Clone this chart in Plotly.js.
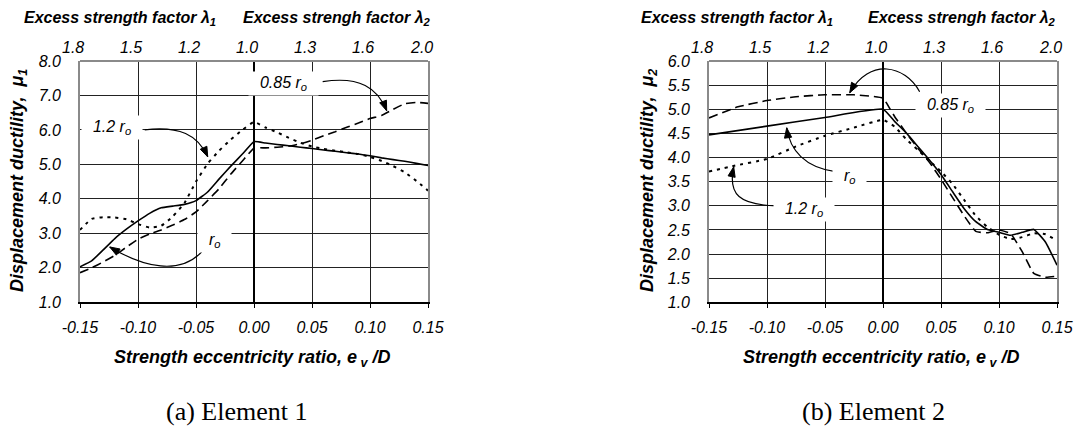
<!DOCTYPE html>
<html>
<head>
<meta charset="utf-8">
<script src="https://cdn.plot.ly/plotly-3.0.1.min.js"></script>
<style>html,body{margin:0;padding:0;background:#fff;}#chart{width:1074px;height:427px;}</style>
</head>
<body>
<div id="chart"></div>
<script>
// ---- Data ----
const ratioTicks = [-0.15, -0.10, -0.05, 0.00, 0.05, 0.10, 0.15];
const ratioLabels = ['-0.15', '-0.10', '-0.05', '0.00', '0.05', '0.10', '0.15'];
const lambdaLabels = ['1.8', '1.5', '1.2', '1.0', '1.3', '1.6', '2.0'];

// Element 1 (left chart), displacement ductility mu1
const e1X = [-0.15,-0.14,-0.13,-0.12,-0.11,-0.10,-0.09,-0.08,-0.07,-0.06,-0.05,-0.04,-0.03,-0.02,-0.01,0.00,
             0.01,0.02,0.03,0.04,0.05,0.06,0.07,0.08,0.09,0.10,0.11,0.12,0.13,0.14,0.15];
const e1_ro   = [2.03,2.20,2.52,2.85,3.12,3.36,3.58,3.74,3.79,3.84,3.95,4.20,4.58,4.95,5.30,5.66,
                 5.62,5.58,5.54,5.50,5.46,5.42,5.38,5.34,5.30,5.25,5.19,5.14,5.09,5.03,4.97];
const e1_085  = [1.86,2.00,2.17,2.36,2.60,2.83,2.98,3.10,3.24,3.40,3.62,3.95,4.30,4.72,5.10,5.47,
                 5.48,5.50,5.53,5.60,5.70,5.83,5.95,6.08,6.20,6.33,6.42,6.60,6.76,6.80,6.77];
const e1_12   = [3.10,3.42,3.47,3.46,3.41,3.27,3.17,3.22,3.49,3.88,4.50,5.02,5.40,5.72,6.00,6.23,
                 6.07,5.93,5.77,5.63,5.52,5.45,5.40,5.35,5.30,5.22,5.10,4.95,4.77,4.52,4.24];

// Element 2 (right chart), displacement ductility mu2
const e2X_ro  = [-0.15,-0.10,-0.05,0.00,0.01,0.02,0.03,0.04,0.05,0.06,0.07,0.08,0.09,0.10,0.11,0.12,0.13,0.14,0.15];
const e2_ro   = [4.47,4.65,4.83,5.00,4.75,4.51,4.23,3.95,3.65,3.29,2.94,2.67,2.51,2.45,2.39,2.45,2.51,2.25,1.77];
const e2X_085 = [-0.15,-0.125,-0.10,-0.075,-0.05,-0.025,-0.01,0.00,0.005,0.01,0.02,0.03,0.04,0.05,0.06,0.07,0.08,0.09,0.10,0.11,0.12,0.13,0.14,0.15];
const e2_085  = [4.82,5.05,5.18,5.26,5.30,5.30,5.27,5.23,5.05,4.85,4.51,4.19,3.90,3.55,3.17,2.79,2.47,2.44,2.50,2.42,2.05,1.60,1.52,1.54];
const e2X_12  = [-0.15,-0.13,-0.10,-0.075,-0.05,-0.025,0.00,0.01,0.02,0.03,0.04,0.05,0.06,0.07,0.08,0.09,0.10,0.11,0.12,0.13,0.14,0.15];
const e2_12   = [3.71,3.82,3.97,4.23,4.45,4.62,4.78,4.64,4.38,4.16,3.93,3.71,3.45,3.12,2.79,2.56,2.40,2.31,2.35,2.43,2.41,2.28];

// ---- Styles ----
const SANS = 'Liberation Sans, Arial, sans-serif';
const SERIF = 'Liberation Serif, Times New Roman, serif';
const tickFont = {family: SANS, size: 16, color: '#000', style: 'italic'};
const titleFont = {family: SANS, size: 18, color: '#000', style: 'italic', weight: 'bold'};
const topTitleFont = {family: SANS, size: 16, color: '#000', style: 'italic', weight: 'bold'};
const noteFont = {family: SANS, size: 16, color: '#000', style: 'italic'};
const captionFont = {family: SERIF, size: 26, color: '#000'};
const GRID = '#222';
const FRAME = '#8a8a8a';
const W = 1074, H = 427;
const PX0 = [80, 709], PW = 348, PY0 = 61, PH = 241.3;

function line(x, y, xa, ya, dash, width) {
  return {x: x, y: y, xaxis: xa, yaxis: ya, type: 'scatter', mode: 'lines',
          line: {color: '#000', width: width, dash: dash, shape: 'spline', smoothing: 0.4},
          hoverinfo: 'skip', cliponaxis: true};
}

const traces = [
  line(e1X, e1_12, 'x', 'y', '3px,5px', 2),
  line(e1X, e1_085, 'x', 'y', '9px,5px', 1.6),
  line(e1X, e1_ro, 'x', 'y', 'solid', 1.6),
  line(e2X_12, e2_12, 'x2', 'y2', '3px,5px', 2),
  line(e2X_085, e2_085, 'x2', 'y2', '9px,5px', 1.6),
  line(e2X_ro, e2_ro, 'x2', 'y2', 'solid', 1.6)
];

function bottomAxis(domain, anchor) {
  return {domain: domain, anchor: anchor, range: [-0.15, 0.15], tickvals: ratioTicks, ticktext: ratioLabels,
          showgrid: true, gridcolor: GRID, gridwidth: 1, showline: true, linecolor: '#000', linewidth: 1.5,
          ticks: 'outside', ticklen: 4, tickcolor: '#000', tickfont: tickFont, ticklabelstandoff: 6,
          zeroline: true, zerolinecolor: '#000', zerolinewidth: 1.3, fixedrange: true};
}
function leftAxis(domain, anchor, range, dtick) {
  return {domain: domain, anchor: anchor, range: range, dtick: dtick, tick0: 1, tickformat: '.1f',
          showgrid: true, gridcolor: GRID, gridwidth: 1, showline: true, mirror: true, linecolor: FRAME, linewidth: 1.8,
          ticks: '', tickfont: tickFont, ticklabelstandoff: 14, zeroline: false, fixedrange: true};
}

const yDom = [1 - (PY0 + PH) / H, 1 - PY0 / H];

// callout curves (leader lines) in data coordinates
const shapes = [
  {type: 'line', xref: 'x domain', yref: 'y domain', x0: 0, x1: 1, y0: 1, y1: 1, line: {color: FRAME, width: 1.8}},
  {type: 'line', xref: 'x2 domain', yref: 'y2 domain', x0: 0, x1: 1, y0: 1, y1: 1, line: {color: FRAME, width: 1.8}},
  {type: 'path', xref: 'x', yref: 'y', path: 'M -0.0942,6.004 C -0.0641,6.12 -0.0485,5.86 -0.0399,5.22', line: {color: '#000', width: 1.2}},
  {type: 'path', xref: 'x', yref: 'y', path: 'M 0.0592,7.40 C 0.0911,7.57 0.1066,7.22 0.1144,6.556', line: {color: '#000', width: 1.2}},
  {type: 'path', xref: 'x', yref: 'y', path: 'M -0.0451,2.461 C -0.0641,1.793 -0.0942,1.996 -0.1244,2.606', line: {color: '#000', width: 1.2}},
  {type: 'path', xref: 'x2', yref: 'y2', path: 'M 0.0316,5.363 C 0.0187,5.923 -0.0115,6.068 -0.0287,5.342', line: {color: '#000', width: 1.2}},
  {type: 'path', xref: 'x2', yref: 'y2', path: 'M -0.0399,3.703 C -0.0675,3.786 -0.0804,4.16 -0.0830,4.616', line: {color: '#000', width: 1.2}},
  {type: 'path', xref: 'x2', yref: 'y2', path: 'M -0.0916,2.998 C -0.1235,3.019 -0.1339,3.226 -0.1287,3.807', line: {color: '#000', width: 1.2}}
];

// filled arrowheads: tip in data coords, direction of travel in pixels
function arrowHead(panel, tx, ty, dx, dy) {
  const xr = panel === 0 ? 'x' : 'x2', yr = panel === 0 ? 'y' : 'y2';
  const sx = PW / 0.3, sy = PH / (panel === 0 ? 7 : 5);
  const n = Math.hypot(dx, dy), ux = dx / n, uy = dy / n;
  const L = 10, Wd = 3.6;
  const bx = -ux * L, by = -uy * L;
  const p1 = [bx - uy * Wd, by + ux * Wd], p2 = [bx + uy * Wd, by - ux * Wd];
  const toD = p => (tx + p[0] / sx).toFixed(5) + ',' + (ty - p[1] / sy).toFixed(5);
  return {type: 'path', xref: xr, yref: yr, path: 'M ' + tx + ',' + ty + ' L ' + toD(p1) + ' L ' + toD(p2) + ' Z',
          fillcolor: '#000', line: {color: '#000', width: 1}};
}
shapes.push(
  arrowHead(0, -0.0399, 5.22, 10, 22),
  arrowHead(0, 0.1144, 6.556, 9, 23),
  arrowHead(0, -0.1244, 2.606, -35, -21),
  arrowHead(1, -0.0287, 5.342, -20, 35),
  arrowHead(1, -0.0830, 4.616, -3, -22),
  arrowHead(1, -0.1287, 3.807, 6, -28)
);

function note(xr, yr, x, y, txt) {
  return {xref: xr, yref: yr, x: x, y: y, text: txt, showarrow: false, font: noteFont,
          bgcolor: '#fff', borderpad: 2, xanchor: 'center', yanchor: 'middle'};
}
function paperText(x, y, txt, font, angle) {
  return {xref: 'paper', yref: 'paper', x: x / W, y: 1 - y / H, text: txt, showarrow: false,
          font: font, xanchor: 'center', yanchor: 'middle', textangle: angle || 0};
}

const annotations = [
  note('x', 'y', -0.1226, 6.06, '&nbsp;&nbsp;1.2 r<sub>o</sub>&nbsp;&nbsp;'),
  note('x', 'y', 0.0256, 7.34, '&nbsp;&nbsp;0.85 r<sub>o</sub>&nbsp;&nbsp;'),
  note('x', 'y', -0.0339, 2.78, '&nbsp;&nbsp;r<sub>o</sub>&nbsp;&nbsp;'),
  note('x2', 'y2', 0.0584, 5.07, '&nbsp;&nbsp;0.85 r<sub>o</sub>&nbsp;&nbsp;'),
  note('x2', 'y2', -0.0287, 3.60, '&nbsp;&nbsp;r<sub>o</sub>&nbsp;&nbsp;'),
  note('x2', 'y2', -0.0685, 2.915, '&nbsp;&nbsp;1.2 r<sub>o</sub>&nbsp;&nbsp;'),
  paperText(120, 18, 'Excess strength factor <b>λ</b><sub>1</sub>', topTitleFont),
  paperText(337, 18, 'Excess strengh factor <b>λ</b><sub>2</sub>', topTitleFont),
  paperText(737, 18, 'Excess strength factor <b>λ</b><sub>1</sub>', topTitleFont),
  paperText(962, 18, 'Excess strengh factor <b>λ</b><sub>2</sub>', topTitleFont),
  paperText(252, 358, 'Strength eccentricity ratio, e<sub> v</sub> /D', titleFont),
  paperText(881, 358, 'Strength eccentricity ratio, e<sub> v</sub> /D', titleFont),
  paperText(18, 181, 'Displacement ductility,  μ<sub>1</sub>', titleFont, -90),
  paperText(648, 181, 'Displacement ductility,  μ<sub>2</sub>', titleFont, -90),
  paperText(237, 411, '(a) Element 1', captionFont),
  paperText(873, 411, '(b) Element 2', captionFont)
];
// top (excess strength factor) tick labels on both charts
['x', 'x2'].forEach(function (xr) {
  ratioTicks.forEach(function (v, i) {
    annotations.push({xref: xr, yref: 'paper', x: v, y: 1 - 47 / H, xshift: -7, text: lambdaLabels[i],
                      showarrow: false, font: tickFont, xanchor: 'center', yanchor: 'middle'});
  });
});

const layout = {
  width: W, height: H, margin: {l: 0, r: 0, t: 0, b: 0},
  paper_bgcolor: '#fff', plot_bgcolor: '#fff', showlegend: false,
  xaxis: bottomAxis([PX0[0] / W, (PX0[0] + PW) / W], 'y'),
  yaxis: leftAxis(yDom, 'x', [1, 8], 1),
  xaxis2: bottomAxis([PX0[1] / W, (PX0[1] + PW) / W], 'y2'),
  yaxis2: leftAxis(yDom, 'x2', [1, 6], 0.5),
  shapes: shapes,
  annotations: annotations
};

Plotly.newPlot('chart', traces, layout, {staticPlot: true, displayModeBar: false});
</script>
</body>
</html>
